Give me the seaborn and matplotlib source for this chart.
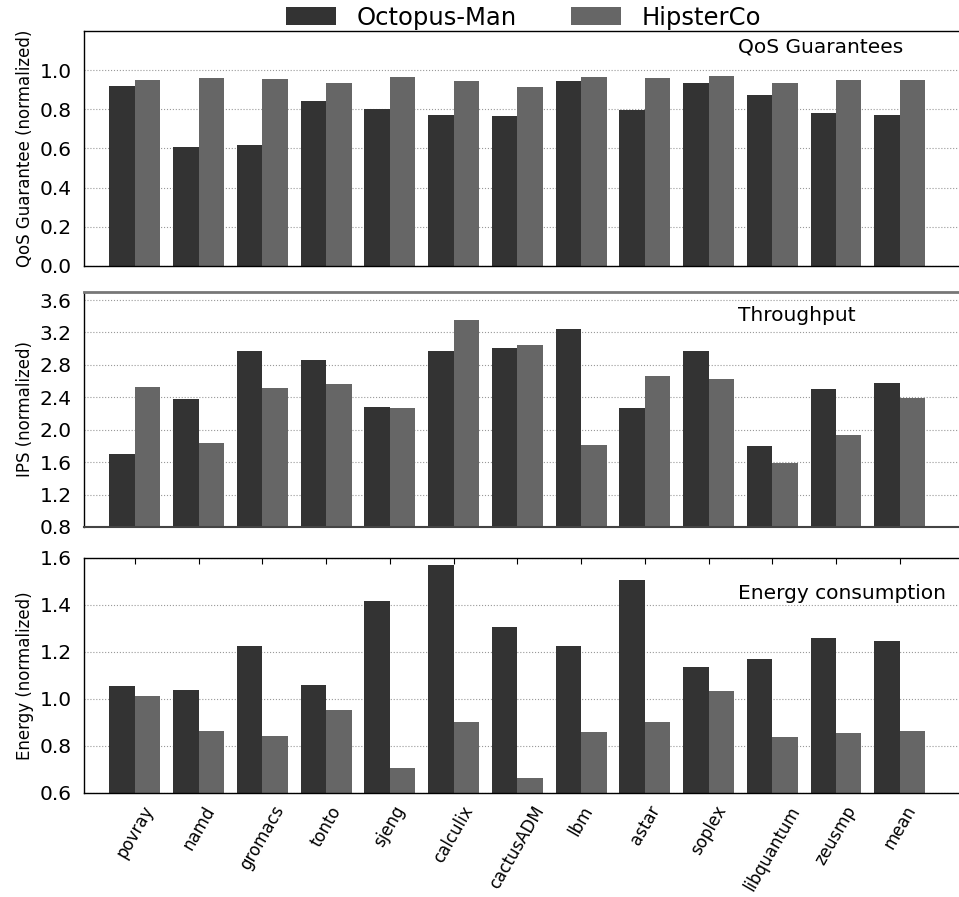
import matplotlib
matplotlib.use("Agg")
import matplotlib.pyplot as plt
import seaborn as sns
import pandas as pd
import numpy as np

benchmarks = ['povray', 'namd', 'gromacs', 'tonto', 'sjeng', 'calculix', 'cactusADM',
              'lbm', 'astar', 'soplex', 'libquantum', 'zeusmp', 'mean']
methods = ['Octopus-Man', 'HipsterCo']

qos_octopus = [0.918, 0.607, 0.617, 0.842, 0.801, 0.770, 0.765, 0.944, 0.796, 0.934, 0.872, 0.781, 0.770]
qos_hipster = [0.949, 0.959, 0.954, 0.934, 0.964, 0.944, 0.913, 0.964, 0.959, 0.969, 0.934, 0.949, 0.949]

ips_octopus = [1.70, 2.38, 2.97, 2.86, 2.28, 2.97, 3.01, 3.24, 2.27, 2.97, 1.80, 2.50, 2.58]
ips_hipster = [2.53, 1.84, 2.52, 2.57, 2.27, 3.36, 3.05, 1.81, 2.66, 2.63, 1.59, 1.94, 2.39]

energy_octopus = [1.055, 1.038, 1.226, 1.060, 1.417, 1.570, 1.306, 1.226, 1.506, 1.136, 1.170, 1.260, 1.247]
energy_hipster = [1.013, 0.864, 0.843, 0.953, 0.706, 0.902, 0.664, 0.860, 0.902, 1.034, 0.838, 0.855, 0.864]

colors = ['#333333', '#666666']


def long_df(a, b):
    return pd.DataFrame({
        'benchmark': benchmarks * 2,
        'method': [methods[0]] * len(benchmarks) + [methods[1]] * len(benchmarks),
        'value': list(a) + list(b),
    })


panels = [
    (long_df(qos_octopus, qos_hipster), 'QoS Guarantee (normalized)', 'QoS Guarantees',
     (0, 1.2), np.arange(0, 1.01, 0.2), 0.93),
    (long_df(ips_octopus, ips_hipster), 'IPS (normalized)', 'Throughput',
     (0.8, 3.7), np.arange(0.8, 3.61, 0.4), 0.90),
    (long_df(energy_octopus, energy_hipster), 'Energy (normalized)', 'Energy consumption',
     (0.6, 1.6), np.arange(0.6, 1.61, 0.2), 0.85),
]

sns.set_style('white')
plt.rcParams['font.family'] = ['DejaVu Sans']
plt.rcParams['text.color'] = 'black'
plt.rcParams['axes.labelcolor'] = 'black'
plt.rcParams['xtick.color'] = 'black'
plt.rcParams['ytick.color'] = 'black'

fig = plt.figure(figsize=(9.59, 8.97), dpi=100)
bottoms = [0.7035, 0.4125, 0.116]
axes = [fig.add_axes([0.0876, b, 0.9124, 0.262]) for b in bottoms]

for i, (ax, (df, ylabel, note, ylim, yticks, ny)) in enumerate(zip(axes, panels)):
    sns.barplot(data=df, x='benchmark', y='value', hue='method', palette=colors,
                saturation=1, width=0.8, ax=ax, legend=(i == 0),
                edgecolor='none', linewidth=0)
    ax.set_xlim(-0.8, 12.93)
    ax.set_ylim(*ylim)
    ax.set_yticks(yticks)
    ax.set_yticklabels([f"{t:.1f}" for t in yticks], fontsize=14.5)
    ax.set_ylabel(ylabel, fontsize=12)
    ax.set_xlabel('')
    ax.set_axisbelow(True)
    ax.yaxis.grid(True, linestyle=':', color='#999999', linewidth=0.8)
    ax.tick_params(axis='y', length=0, pad=9)
    ax.spines['right'].set_visible(False)
    for s in ['left', 'top', 'bottom']:
        ax.spines[s].set_color('black')
        ax.spines[s].set_linewidth(1.0)
    ax.text(0.747, ny, note, transform=ax.transAxes, fontsize=14.5, ha='left', va='center')
    if i < 2:
        ax.tick_params(axis='x', length=0, labelbottom=False)
    else:
        ax.tick_params(axis='x', direction='in', length=4, top=True, bottom=True,
                       color='black', pad=7)
        ax.set_xticks(range(len(benchmarks)))
        ax.set_xticklabels(benchmarks, rotation=60, ha='center', fontsize=12)

axes[1].spines['top'].set_color('#777777')
axes[1].spines['top'].set_linewidth(2)
axes[1].spines['bottom'].set_color('#444444')
axes[1].spines['bottom'].set_linewidth(1.5)

handles, labels = axes[0].get_legend_handles_labels()
axes[0].get_legend().remove()
fig.legend(handles, labels, loc='upper center', bbox_to_anchor=(0.546, 1.018), ncol=2,
           frameon=False, fontsize=17.5, handlelength=2.07, handleheight=0.76,
           columnspacing=2.2, handletextpad=0.85)

fig.savefig('out.png', dpi=100)
